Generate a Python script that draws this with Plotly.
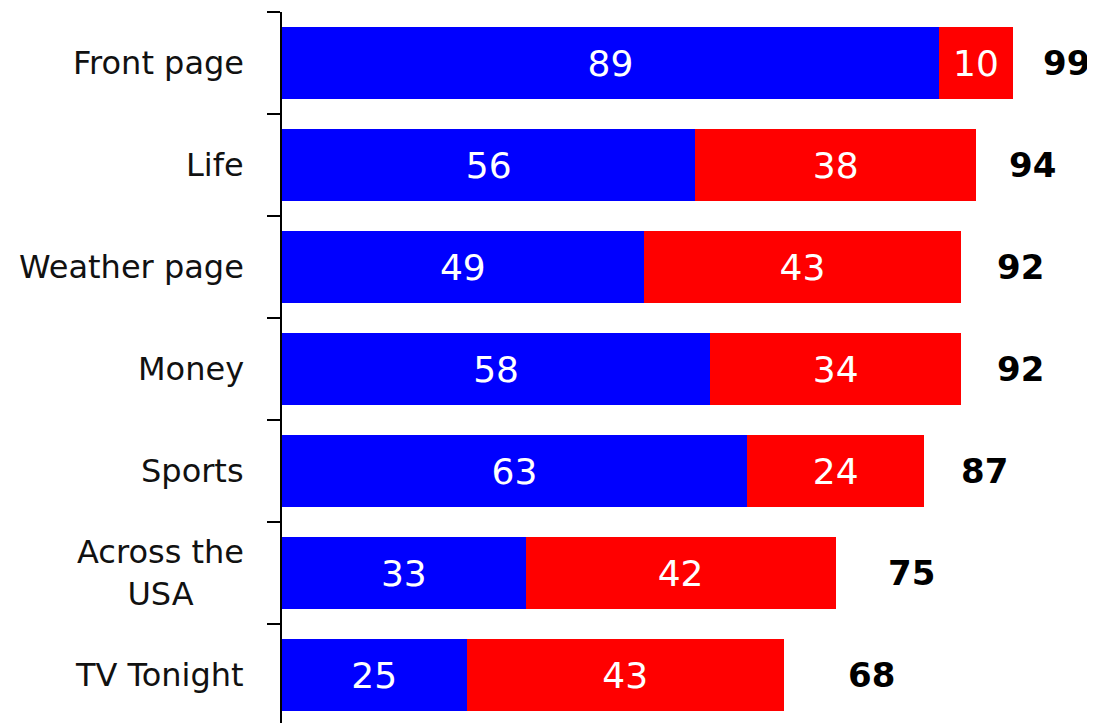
import plotly.graph_objects as go

categories = ["Front page", "Life", "Weather page", "Money", "Sports", "Across the<br>USA", "TV Tonight"]
blue_vals = [89, 56, 49, 58, 63, 33, 25]
red_vals = [10, 38, 43, 34, 24, 42, 43]
totals = [99, 94, 92, 92, 87, 75, 68]

# style: pixel gap between bar end and total label, per row
total_gap_px = [28, 31, 34, 34, 35, 50, 62]

ypos = list(range(len(categories)))
FONT = "DejaVu Sans"

fig = go.Figure()
fig.add_trace(go.Bar(
    y=ypos, x=blue_vals, orientation="h", width=0.7,
    marker=dict(color="#0000FF", line=dict(width=0)),
    text=blue_vals, textposition="inside", insidetextanchor="middle",
    textfont=dict(family=FONT, size=36, color="white"),
    hoverinfo="skip", showlegend=False,
))
fig.add_trace(go.Bar(
    y=ypos, x=red_vals, orientation="h", width=0.7,
    marker=dict(color="#FF0000", line=dict(width=0)),
    text=red_vals, textposition="inside", insidetextanchor="middle",
    textfont=dict(family=FONT, size=36, color="white"),
    hoverinfo="skip", showlegend=False,
))

annotations = []
for i, cat in enumerate(categories):
    annotations.append(dict(
        x=0, xref="paper", y=ypos[i], yref="y", text=cat,
        xanchor="right", yanchor="middle", xshift=-36, align="center",
        showarrow=False, font=dict(family=FONT, size=32, color="#111111"),
    ))
    annotations.append(dict(
        x=totals[i], xref="x", y=ypos[i], yref="y", text="<b>%d</b>" % totals[i],
        xanchor="left", yanchor="middle", xshift=total_gap_px[i],
        showarrow=False, font=dict(family=FONT, size=34, color="black"),
    ))

fig.update_layout(
    barmode="stack",
    width=1087, height=715,
    margin=dict(l=274, r=1, t=4, b=0, pad=0),
    plot_bgcolor="white", paper_bgcolor="white",
    annotations=annotations,
    xaxis=dict(visible=False, range=[0, 110], fixedrange=True),
    yaxis=dict(
        range=[6.47, -0.5],
        tickmode="array",
        tickvals=[i - 0.5 for i in range(len(categories) + 1)],
        showticklabels=False,
        ticks="outside", ticklen=13, tickwidth=2, tickcolor="black",
        showline=True, linecolor="black", linewidth=2,
        showgrid=False, zeroline=False, fixedrange=True,
    ),
)

fig.write_html("out.html", config={"displayModeBar": False})
